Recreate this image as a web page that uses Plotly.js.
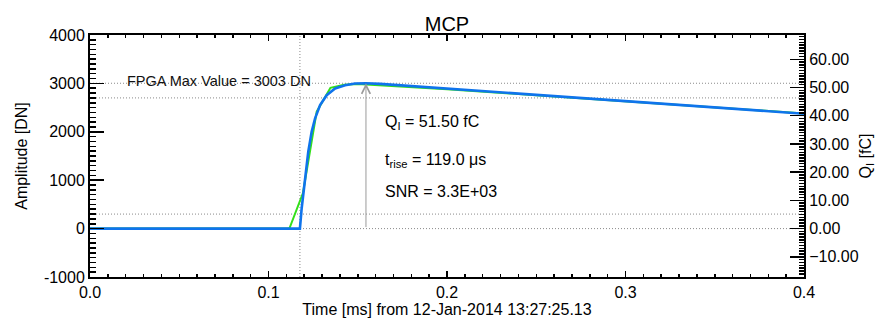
<!DOCTYPE html>
<html>
<head>
<meta charset="utf-8">
<script src="https://cdn.plot.ly/plotly-3.0.1.min.js"></script>
<style>html,body{margin:0;padding:0;background:#fff;}#chart{width:878px;height:321px;background:#fff;}</style>
</head>
<body>
<div id="chart"></div>
<script>
// ---- data ----
const dataTime = [0.0, 0.1117, 0.1193, 0.1270, 0.1347, 0.1424, 0.1500, 0.1577, 0.2000, 0.2500, 0.3000, 0.3500, 0.4000];   // ms
const dataAmp  = [0,    0,      735,    2416,   2909,   2973,   2990,   2975,   2880,   2755,   2628,   2505,   2380];     // DN

const fitTime = [0.0, 0.1176, 0.1186, 0.1205, 0.1223, 0.1242, 0.1261, 0.1289, 0.1326, 0.1373, 0.1429, 0.1485, 0.1546, 0.1625, 0.2969, 0.4000]; // ms
const fitAmp  = [0,   0,      426,    1043,   1593,   2004,   2278,   2551,   2757,   2895,   2963,   2998,   3003,   2990,   2634,   2374];   // DN

const fpgaMax   = 3003;          // DN
const levelLines = [3003, 2700, 300, 0];   // DN, dotted reference levels
const tStart    = 0.1176;        // ms, dotted vertical line
const tPeak     = 0.1546;        // ms, arrow position
const peakAmp   = 3003;          // DN
const qValue    = 51.50;         // fC
const tRise     = 119.0;         // us
const snrText   = "3.3E+03";

const yTickVals = [-1000, 0, 1000, 2000, 3000, 4000];
const yTickText = ["-1000", "0", "1000", "2000", "3000", "4000"];
const xRange = [0, 0.4];
const yRange = [-1000, 4000];

// ---- derived ----
const qPerDN = qValue / peakAmp;
const y2Range = yRange.map(v => v * qPerDN);
const fitQ = fitAmp.map(v => v * qPerDN);

const FONT = "Liberation Sans, Arial, Helvetica, sans-serif";
const dotGray = "#8a8a8a";

const traces = [
  {x: dataTime, y: dataAmp, type: "scatter", mode: "lines",
   line: {color: "#33e01a", width: 2}, showlegend: false},
  {x: fitTime, y: fitAmp, type: "scatter", mode: "lines",
   line: {color: "#0f74ec", width: 2.6}, showlegend: false},
  {x: fitTime, y: fitQ, type: "scatter", mode: "lines", yaxis: "y2",
   line: {color: "rgba(0,0,0,0)", width: 0}, showlegend: false}
];

const shapes = levelLines.map(v => ({
  type: "line", xref: "paper", x0: 0, x1: 1, yref: "y", y0: v, y1: v,
  line: {color: dotGray, width: 1, dash: "1px,2px"}, layer: "below"
}));
shapes.push({type: "line", xref: "x", x0: tStart, x1: tStart, yref: "paper", y0: 0, y1: 1,
  line: {color: dotGray, width: 1, dash: "1px,2px"}, layer: "below"});

const txtFont = {family: FONT, size: 16, color: "#000"};
const annotations = [
  {xref: "paper", x: 0.049, yref: "y", y: fpgaMax, yshift: 2, xanchor: "left", yanchor: "middle",
   text: "FPGA Max Value = " + fpgaMax + " DN", showarrow: false,
   font: {family: FONT, size: 14.5, color: "#111"}},
  {xref: "x", x: tPeak, yref: "y", y: peakAmp, axref: "x", ax: tPeak, ayref: "y", ay: 0,
   text: "", showarrow: true, arrowhead: 5, arrowsize: 1.7, arrowwidth: 1, arrowcolor: "#9a9a9a"},
  {xref: "paper", x: 0.4104, yref: "paper", y: 0.637, xanchor: "left", yanchor: "middle",
   text: "Q<sub>I</sub> = " + qValue.toFixed(2) + " fC", showarrow: false, font: txtFont},
  {xref: "paper", x: 0.4104, yref: "paper", y: 0.482, xanchor: "left", yanchor: "middle",
   text: "t<sub>rise</sub> = " + tRise.toFixed(1) + " \u03bcs", showarrow: false, font: txtFont},
  {xref: "paper", x: 0.4104, yref: "paper", y: 0.355, xanchor: "left", yanchor: "middle",
   text: "SNR = " + snrText, showarrow: false, font: txtFont}
];

function axisBase() {
  return {
    showline: true, linecolor: "#000", linewidth: 2, showgrid: false, zeroline: false,
    ticks: "inside", tickcolor: "#000", automargin: false,
    tickfont: {family: FONT, size: 16, color: "#000"}
  };
}

const layout = {
  width: 878, height: 321,
  margin: {l: 90, r: 74, t: 35, b: 44},
  paper_bgcolor: "rgba(0,0,0,0)", plot_bgcolor: "rgba(0,0,0,0)",
  font: {family: FONT, size: 16, color: "#000"},
  showlegend: false,
  title: {text: "MCP", font: {family: FONT, size: 20, color: "#000"},
          xref: "paper", x: 0.5, xanchor: "center", yref: "container", y: 0.926, yanchor: "middle"},
  xaxis: Object.assign(axisBase(), {
    range: xRange, tickmode: "linear", tick0: 0, dtick: 0.1, tickformat: ".1f",
    ticklen: 6, tickwidth: 1.5, mirror: "ticks",
    minor: {dtick: 0.01, ticks: "inside", ticklen: 3, tickcolor: "#000"},
    title: {text: "Time [ms] from 12-Jan-2014 13:27:25.13", font: {family: FONT, size: 16, color: "#000"}, standoff: 4}
  }),
  yaxis: Object.assign(axisBase(), {
    range: yRange, tickmode: "array", tickvals: yTickVals, ticktext: yTickText,
    ticklen: 14, tickwidth: 1.5,
    minor: {dtick: 100, ticks: "inside", ticklen: 6, tickcolor: "#000"},
    title: {text: "Amplitude [DN]", font: {family: FONT, size: 16, color: "#000"}, standoff: 12}
  }),
  yaxis2: Object.assign(axisBase(), {
    overlaying: "y", side: "right", range: y2Range,
    tickmode: "linear", tick0: 0, dtick: 10, tickformat: ".2f",
    ticklen: 14, tickwidth: 1.5,
    minor: {dtick: 1, ticks: "inside", ticklen: 5, tickcolor: "#000"},
    title: {text: "Q<sub>I</sub> [fC]", font: {family: FONT, size: 16, color: "#000"}, standoff: 2}
  }),
  shapes: shapes,
  annotations: annotations
};

Plotly.newPlot("chart", traces, layout, {displayModeBar: false, staticPlot: true}).then(gd => {
  try {
    // lift Plotly's own axis layers (ticks + axis lines) to the top so nothing covers them
    const svgs = gd.querySelectorAll("svg.main-svg");
    const topSvg = svgs[svgs.length - 1];
    gd.querySelectorAll(".xaxislayer-above, .yaxislayer-above, .overaxes-above, path.xlines-above, path.ylines-above")
      .forEach(n => topSvg.appendChild(n));
  } catch (e) {}
});
</script>
</body>
</html>
